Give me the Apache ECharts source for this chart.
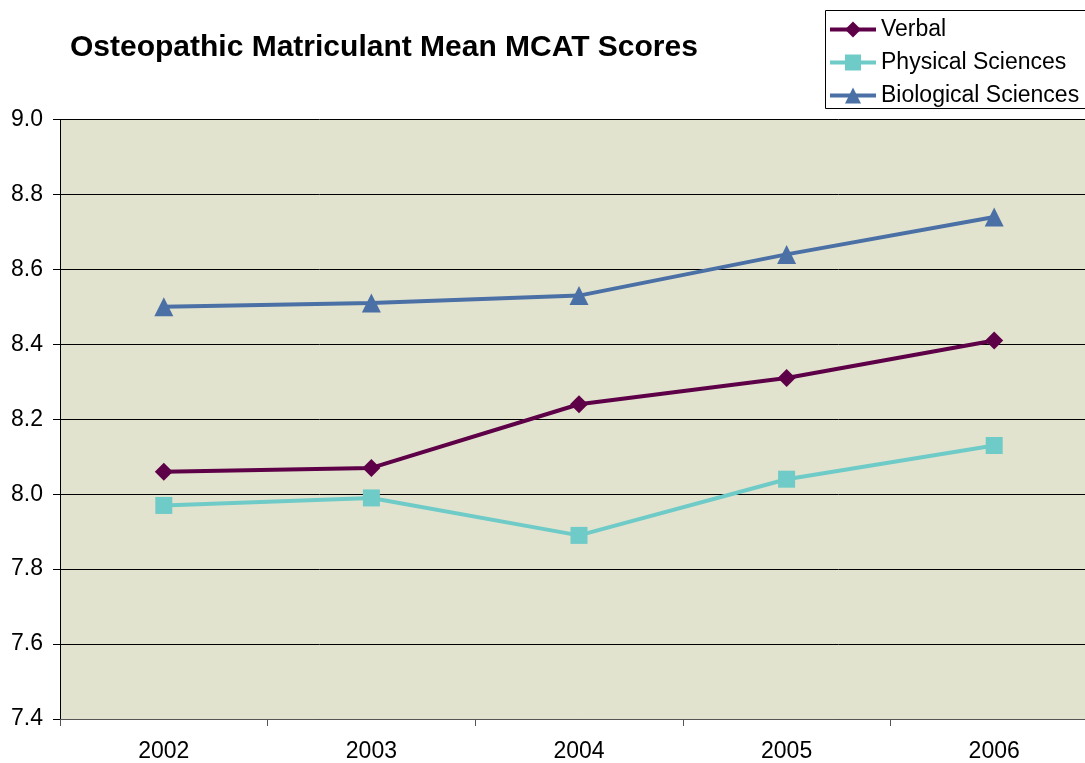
<!DOCTYPE html>
<html>
<head>
<meta charset="utf-8">
<script src="https://cdn.jsdelivr.net/npm/echarts@6/dist/echarts.min.js"></script>
<style>
    html, body { margin: 0; padding: 0; background: #fff; overflow: hidden; }
    /* wider than the window: the plot runs past the right edge, as in the reference */
    #chart { width: 1098px; height: 763px; }
</style>
</head>
<body>
<div id="chart"></div>
<script>
// data
const years = ['2002', '2003', '2004', '2005', '2006']
const verbal = [8.06, 8.07, 8.24, 8.31, 8.41]
const physical = [7.97, 7.99, 7.89, 8.04, 8.13]
const biological = [8.50, 8.51, 8.53, 8.64, 8.74]

const chart = echarts.init(document.getElementById('chart'))

function lineSeries(name, data, color, symbol, size) {
    return {
        name: name,
        type: 'line',
        data: data,
        symbol: symbol,
        symbolSize: size,
        showAllSymbol: true,
        lineStyle: { color: color, width: 4 },
        itemStyle: { color: color },
        emphasis: { disabled: true }
    }
}

chart.setOption({
    animation: false,
    textStyle: { fontFamily: 'Liberation Sans, Arial, sans-serif' },
    title: {
        text: 'Osteopathic Matriculant Mean MCAT Scores',
        left: 65,
        top: 28,
        textStyle: { fontSize: 30, fontWeight: 'bold', color: '#000' }
    },
    // legend frame runs off the right edge like the reference
    graphic: [{
        type: 'rect',
        shape: { x: 825.5, y: 10.5, width: 300, height: 98 },
        style: { fill: 'none', stroke: '#000', lineWidth: 1 },
        silent: true
    }],
    legend: {
        orient: 'vertical',
        left: 825,
        top: 10,
        padding: [8, 10, 3, 3],
        itemGap: 10,
        itemWidth: 46,
        itemHeight: 20,
        lineStyle: { width: 4 },
        textStyle: { fontSize: 23, color: '#000' },
        data: ['Verbal', 'Physical Sciences', 'Biological Sciences']
    },
    grid: { left: 60, right: 0, top: 119.5, bottom: 43.5 },
    xAxis: {
        type: 'category',
        data: years,
        boundaryGap: true,
        axisLine: { lineStyle: { color: '#555', width: 1 } },
        axisTick: { show: true, length: 7, lineStyle: { color: '#555' } },
        axisLabel: { fontSize: 23, color: '#000', margin: 21 },
        splitLine: { show: false }
    },
    yAxis: {
        type: 'value',
        min: 7.4,
        max: 9.0,
        interval: 0.2,
        axisLine: { show: true, lineStyle: { color: '#000', width: 1 } },
        axisTick: { show: true, length: 7, lineStyle: { color: '#000' } },
        axisLabel: {
            fontSize: 23, color: '#000', margin: 17,
            formatter: v => v.toFixed(1)
        },
        splitLine: { show: true, lineStyle: { color: '#000', width: 1 } },
        splitArea: { show: true, areaStyle: { color: ['#E2E3CE', '#E2E3CE'] } }
    },
    series: [
        lineSeries('Verbal', verbal, '#5E0048', 'diamond', 18),
        lineSeries('Physical Sciences', physical, '#6FCBC7', 'rect', 17),
        lineSeries('Biological Sciences', biological, '#4A70A6', 'triangle', 19)
    ]
})
</script>
</body>
</html>
